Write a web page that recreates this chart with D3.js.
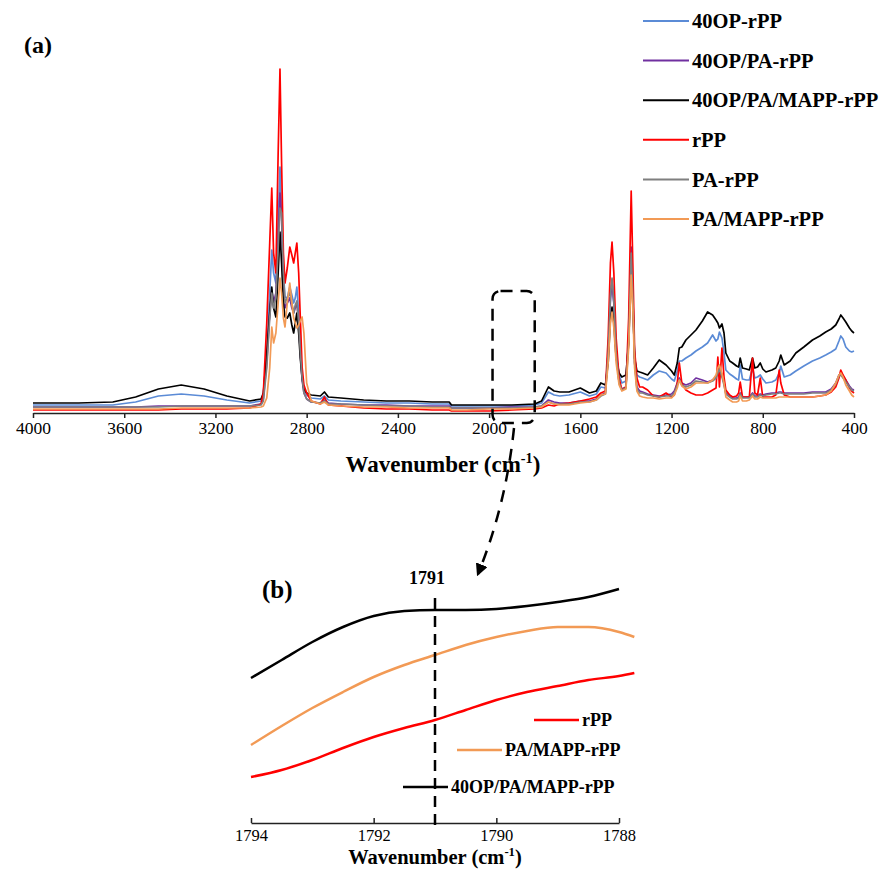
<!DOCTYPE html>
<html>
<head>
<meta charset="utf-8">
<script src="https://cdn.jsdelivr.net/npm/d3@7"></script>
<style>
  body { margin: 0; background: #fff; }
  svg text { font-family: "Liberation Serif", "Times New Roman", serif; fill: #000; }
</style>
</head>
<body>
<svg id="chart" width="887" height="872"></svg>
<script>
// wavenumbers (cm-1) for the full spectra
const wavenumbers = [4000,3800,3650,3550,3450,3350,3250,3150,3050,3000,
  2990,2975,2962,2953,2945,2935,2925,2917,2910,2902,
  2895,2885,2874,2865,2857,2850,2843,2835,2828,2820,
  2812,2800,2780,2740,2722,2705,2650,2550,2450,2350,
  2250,2175,2165,2100,2000,1900,1800,1770,1740,1715,
  1690,1650,1600,1560,1530,1510,1490,1478,1468,1461,
  1453,1443,1430,1418,1400,1388,1377,1370,1362,1352,
  1340,1327,1305,1280,1254,1224,1200,1188,1175,1166,
  1155,1137,1115,1093,1065,1042,1020,1005,997,990,
  979,970,962,945,932,915,906,899,889,872,
  859,845,835,823,811,800,786,760,743,728,
  721,706,680,655,620,582,550,524,500,480,
  466,458,448,436,420,410,400];

// absorbance (a.u.)
const op40 = [.008,.008,.008,.011,.017,.019,.017,.013,.010,.012,
  .018,.060,.120,.163,.140,.130,.190,.246,.200,.140,
  .116,.115,.126,.118,.110,.115,.126,.100,.065,.038,
  .024,.018,.015,.014,.017,.013,.012,.011,.010,.010,
  .009,.009,.007,.007,.007,.007,.008,.010,.021,.018,
  .017,.018,.021,.017,.019,.026,.025,.060,.115,.131,
  .110,.060,.038,.030,.032,.075,.160,.120,.055,.038,
  .036,.035,.033,.038,.042,.040,.034,.032,.042,.052,
  .052,.055,.058,.062,.066,.070,.078,.072,.074,.081,
  .075,.060,.043,.039,.037,.034,.033,.048,.034,.033,
  .033,.045,.035,.036,.038,.034,.030,.031,.033,.040,
  .047,.036,.038,.042,.047,.052,.055,.058,.061,.064,
  .072,.077,.074,.066,.062,.061,.062];

const op40Pa = [.006,.006,.006,.006,.007,.007,.007,.007,.007,.009,
  .014,.050,.100,.123,.110,.120,.175,.220,.195,.130,
  .105,.110,.115,.105,.100,.105,.110,.090,.060,.033,
  .020,.014,.011,.010,.013,.010,.009,.008,.008,.007,
  .007,.007,.005,.005,.005,.006,.006,.007,.013,.011,
  .010,.010,.012,.012,.014,.018,.020,.060,.115,.131,
  .110,.058,.030,.024,.026,.075,.166,.120,.050,.026,
  .022,.021,.019,.018,.017,.018,.019,.022,.030,.035,
  .030,.028,.030,.035,.033,.031,.033,.036,.042,.046,
  .038,.030,.020,.017,.015,.015,.016,.020,.016,.016,
  .016,.020,.017,.017,.019,.018,.019,.020,.020,.021,
  .021,.020,.020,.020,.020,.021,.021,.021,.024,.030,
  .038,.040,.037,.033,.027,.024,.023];

const op40PaMapp = [.010,.010,.011,.016,.024,.028,.024,.017,.012,.014,
  .020,.060,.100,.126,.105,.096,.140,.181,.150,.110,
  .096,.095,.100,.088,.080,.090,.100,.080,.055,.035,
  .024,.020,.018,.017,.021,.016,.015,.013,.012,.012,
  .011,.011,.008,.008,.008,.008,.009,.012,.026,.022,
  .021,.021,.025,.020,.022,.030,.028,.050,.095,.106,
  .090,.055,.040,.036,.038,.070,.148,.110,.055,.042,
  .041,.040,.038,.045,.053,.048,.042,.038,.050,.065,
  .066,.073,.078,.083,.092,.101,.098,.093,.090,.085,
  .089,.080,.060,.052,.050,.047,.046,.055,.045,.044,
  .043,.055,.045,.046,.050,.044,.041,.043,.045,.052,
  .058,.048,.052,.060,.066,.073,.077,.081,.084,.088,
  .094,.098,.095,.091,.085,.082,.080];

const rpp = [.003,.003,.003,.003,.003,.004,.004,.004,.005,.009,
  .020,.090,.170,.225,.160,.140,.260,.344,.250,.160,
  .130,.145,.166,.158,.150,.160,.170,.140,.096,.046,
  .028,.020,.012,.009,.016,.008,.007,.005,.004,.004,
  .003,.003,.002,.002,.002,.003,.004,.005,.008,.007,
  .009,.010,.012,.014,.016,.020,.022,.075,.150,.171,
  .140,.075,.035,.023,.026,.095,.222,.150,.063,.035,
  .026,.026,.023,.017,.016,.020,.016,.018,.030,.050,
  .030,.023,.020,.018,.018,.020,.023,.025,.056,.026,
  .065,.036,.023,.018,.016,.017,.020,.031,.016,.016,
  .016,.055,.020,.018,.035,.016,.016,.016,.018,.043,
  .030,.018,.016,.016,.016,.016,.017,.018,.021,.026,
  .035,.043,.038,.033,.025,.022,.020];

const paRpp = [.006,.006,.006,.006,.006,.007,.007,.007,.007,.008,
  .012,.045,.095,.120,.105,.115,.165,.205,.200,.140,
  .110,.115,.120,.110,.100,.108,.112,.090,.062,.035,
  .020,.014,.011,.010,.012,.009,.009,.008,.007,.007,
  .006,.006,.005,.005,.005,.005,.006,.007,.011,.009,
  .009,.009,.011,.011,.013,.017,.019,.060,.118,.135,
  .112,.060,.030,.023,.025,.072,.160,.118,.050,.024,
  .020,.020,.018,.017,.016,.017,.017,.020,.028,.033,
  .028,.026,.028,.032,.031,.030,.032,.035,.040,.044,
  .036,.028,.019,.016,.014,.014,.015,.019,.015,.015,
  .015,.019,.016,.016,.018,.017,.018,.019,.019,.020,
  .020,.019,.019,.019,.019,.020,.020,.020,.023,.029,
  .037,.038,.035,.031,.026,.023,.022];

const paMappRpp = [.004,.004,.004,.004,.004,.005,.005,.005,.005,.006,
  .007,.015,.045,.086,.070,.080,.110,.135,.120,.095,
  .086,.110,.130,.110,.095,.090,.085,.088,.092,.096,
  .080,.030,.012,.009,.011,.008,.007,.006,.006,.005,
  .005,.005,.003,.003,.004,.004,.005,.006,.011,.009,
  .008,.008,.010,.011,.013,.018,.019,.050,.090,.101,
  .085,.050,.028,.022,.024,.065,.138,.105,.045,.022,
  .017,.016,.015,.015,.014,.015,.015,.018,.025,.033,
  .027,.024,.026,.030,.030,.030,.033,.038,.045,.048,
  .040,.030,.016,.013,.011,.011,.012,.017,.012,.012,
  .013,.017,.014,.014,.016,.015,.015,.015,.015,.016,
  .016,.016,.016,.016,.016,.016,.017,.018,.022,.030,
  .038,.040,.036,.028,.022,.018,.016];

const series = [
  { name: "40OP-rPP", values: op40, color: "#5B8BD6" },
  { name: "40OP/PA-rPP", values: op40Pa, color: "#7030A0" },
  { name: "40OP/PA/MAPP-rPP", values: op40PaMapp, color: "#000000" },
  { name: "rPP", values: rpp, color: "#FF0000" },
  { name: "PA-rPP", values: paRpp, color: "#7F7F7F" },
  { name: "PA/MAPP-rPP", values: paMappRpp, color: "#F29A55" }
];
const mainTicks = [4000, 3600, 3200, 2800, 2400, 2000, 1600, 1200, 800, 400];

// zoomed region (b)
const insetWn = [1794,1793.5,1793,1792.5,1792,1791.5,1791,1790.5,1790,1789.5,1789,1788.5,1788,1787.75];
const insetBlack = [.122,.140,.158,.173,.184,.189,.190,.190,.191,.194,.198,.203,.211,null];
const insetOrange = [.055,.074,.092,.108,.123,.135,.145,.155,.163,.169,.173,.173,.168,.163];
const insetRed = [.023,.030,.040,.052,.063,.072,.080,.090,.100,.108,.114,.120,.124,.127];
const insetTicks = [1794, 1792, 1790, 1788];

const svg = d3.select("#chart");

// ---------- panel (a) ----------
const x = d3.scaleLinear().domain([4000, 400]).range([33, 854]);
const y = d3.scaleLinear().domain([0, 0.36]).range([413, 53]);

const line = (vals) => d3.line()
  .x((d, i) => x(wavenumbers[i]))
  .y((d) => y(d))(vals);

svg.append("g")
  .selectAll("path")
  .data(series)
  .join("path")
  .attr("d", (d) => line(d.values))
  .attr("fill", "none")
  .attr("stroke", (d) => d.color)
  .attr("stroke-width", 1.7)
  .attr("stroke-linejoin", "round");

const xAxis = svg.append("g")
  .attr("transform", "translate(0,413)")
  .call(d3.axisBottom(x).tickValues(mainTicks).tickFormat(d3.format("d"))
    .tickSize(5).tickSizeOuter(0).tickPadding(4));
xAxis.select(".domain").attr("stroke", "#222").attr("stroke-width", 1.5);
xAxis.selectAll(".tick line").attr("stroke", "#222").attr("stroke-width", 1.5);
xAxis.selectAll("text").attr("font-size", 17.5).attr("font-family", "Liberation Serif");

const title = (cx, cy, size) => {
  const t = svg.append("text").attr("x", cx).attr("y", cy)
    .attr("text-anchor", "middle").attr("font-weight", "bold").attr("font-size", size);
  t.append("tspan").text("Wavenumber (cm");
  t.append("tspan").attr("font-size", size * 0.62).attr("dy", -size * 0.38).text("-1");
  t.append("tspan").attr("dy", size * 0.38).text(")");
};
title(443, 472, 23);

svg.append("text").attr("x", 24).attr("y", 53)
  .attr("font-weight", "bold").attr("font-size", 24).text("(a)");

// legend
const leg = svg.append("g")
  .selectAll("g")
  .data(series)
  .join("g")
  .attr("transform", (d, i) => `translate(643,${21 + i * 39.6})`);
leg.append("line").attr("x1", 0).attr("x2", 46)
  .attr("stroke", (d) => d.color).attr("stroke-width", 2);
leg.append("text").attr("x", 49).attr("dy", "0.35em")
  .attr("font-weight", "bold").attr("font-size", 20.5).text((d) => d.name);

// dashed box around the zoomed region
svg.append("rect")
  .attr("x", x(1985)).attr("y", 291)
  .attr("width", x(1800) - x(1985)).attr("height", 132)
  .attr("rx", 8)
  .attr("fill", "none").attr("stroke", "#000")
  .attr("stroke-width", 2.5).attr("stroke-dasharray", "12,8");

svg.append("defs").append("marker")
  .attr("id", "arrow").attr("viewBox", "0 0 10 10")
  .attr("refX", 8).attr("refY", 5)
  .attr("markerWidth", 5).attr("markerHeight", 5)
  .attr("orient", "auto")
  .append("path").attr("d", "M0,0L10,5L0,10z").attr("fill", "#000");

svg.append("path")
  .attr("d", "M514,428 Q506,505 478,574")
  .attr("fill", "none").attr("stroke", "#000")
  .attr("stroke-width", 2.5).attr("stroke-dasharray", "12,9")
  .attr("marker-end", "url(#arrow)");

// ---------- panel (b) ----------
const xi = d3.scaleLinear().domain([1794, 1788]).range([251, 619]);
const yi = d3.scaleLinear().domain([0, 0.25]).range([800, 550]);

const insetLine = d3.line()
  .defined((d) => d != null)
  .x((d, i) => xi(insetWn[i]))
  .y((d) => yi(d))
  .curve(d3.curveMonotoneX);

const insetSeries = [
  { name: "rPP", values: insetRed, color: "#FF0000" },
  { name: "PA/MAPP-rPP", values: insetOrange, color: "#F29A55" },
  { name: "40OP/PA/MAPP-rPP", values: insetBlack, color: "#000000" }
];

svg.append("g")
  .selectAll("path")
  .data(insetSeries)
  .join("path")
  .attr("d", (d) => insetLine(d.values))
  .attr("fill", "none")
  .attr("stroke", (d) => d.color)
  .attr("stroke-width", 2.5);

const iAxis = svg.append("g")
  .attr("transform", "translate(0,823)")
  .call(d3.axisBottom(xi).tickValues(insetTicks).tickFormat(d3.format("d"))
    .tickSize(-5).tickSizeOuter(0).tickPadding(6));
iAxis.select(".domain").attr("stroke", "#222").attr("stroke-width", 1.5);
iAxis.selectAll(".tick line").attr("stroke", "#222").attr("stroke-width", 1.5);
iAxis.selectAll("text").attr("font-size", 16.5).attr("font-family", "Liberation Serif");

title(435, 864, 20.5);

// marker at 1791
svg.append("line")
  .attr("x1", xi(1791)).attr("x2", xi(1791))
  .attr("y1", 598).attr("y2", 831)
  .attr("stroke", "#000").attr("stroke-width", 2.5)
  .attr("stroke-dasharray", "11,7");
svg.append("text").attr("x", xi(1791) - 8).attr("y", 584)
  .attr("text-anchor", "middle").attr("font-weight", "bold").attr("font-size", 18)
  .text("1791");

svg.append("text").attr("x", 262).attr("y", 598)
  .attr("font-weight", "bold").attr("font-size", 25).text("(b)");

// inset legend
const iLegPos = [{ x: 534, y: 720 }, { x: 457, y: 750 }, { x: 403, y: 787 }];
const iLeg = svg.append("g")
  .selectAll("g")
  .data(insetSeries)
  .join("g")
  .attr("transform", (d, i) => `translate(${iLegPos[i].x},${iLegPos[i].y})`);
iLeg.append("line").attr("x1", 0).attr("x2", 45)
  .attr("stroke", (d) => d.color).attr("stroke-width", 2.5);
iLeg.append("text").attr("x", 48).attr("dy", "0.35em")
  .attr("font-weight", "bold").attr("font-size", 18).text((d) => d.name);
</script>
</body>
</html>
